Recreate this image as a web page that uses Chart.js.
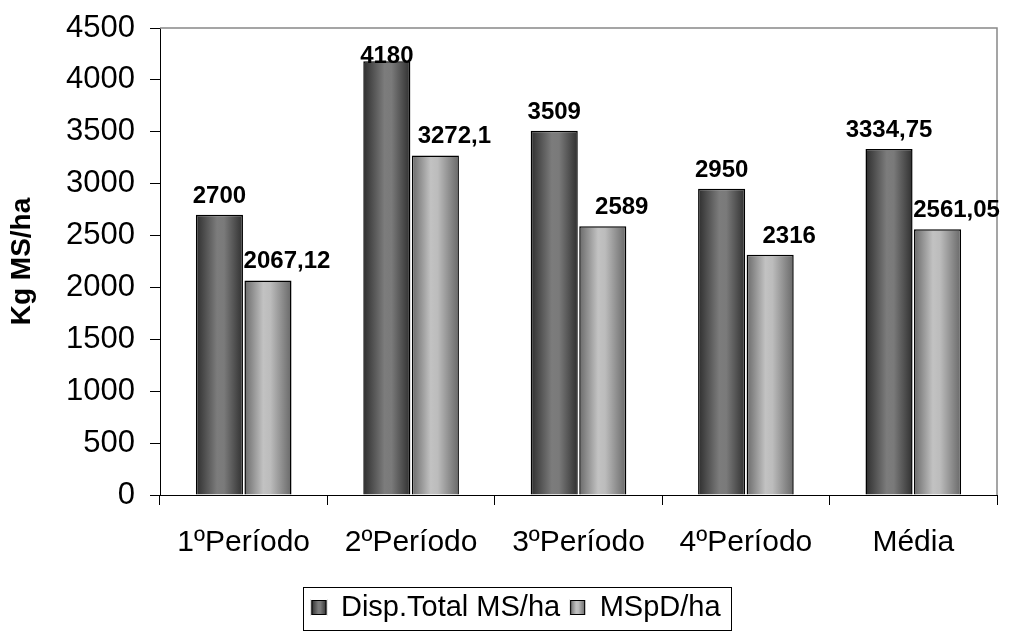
<!DOCTYPE html>
<html>
<head>
<meta charset="utf-8">
<script src="https://cdn.jsdelivr.net/npm/chart.js@4"></script>
<style>
  body { margin: 0; background: #fff; }
</style>
</head>
<body>
<canvas id="grafico" width="1010" height="632"></canvas>
<script>
const categorias = ['1ºPeríodo', '2ºPeríodo', '3ºPeríodo', '4ºPeríodo', 'Média'];
const dispTotal = [2700, 4180, 3509, 2950, 3334.75];
const mspd = [2067.12, 3272.1, 2589, 2316, 2561.05];
const nomesSeries = ['Disp.Total MS/ha', 'MSpD/ha'];
const yMax = 4500;
const yPasso = 500;

const fonte = '"Liberation Sans", Arial, sans-serif';
const catPct = 0.58, barPct = 0.97;
// tons das barras (efeito cilindro do Excel)
const tonsEscuro = [[0, '#2e2e2e'], [0.45, '#7c7c7c'], [0.6, '#7a7a7a'], [1, '#303030']];
const tonsClaro = [[0, '#6a6a6a'], [0.4, '#c2c2c2'], [0.55, '#bcbcbc'], [1, '#686868']];

function gradiente(ctx, x0, x1, tons) {
  const g = ctx.createLinearGradient(x0, 0, x1, 0);
  tons.forEach(t => g.addColorStop(t[0], t[1]));
  return g;
}

function corBarra(tons, reserva) {
  return function(c) {
    const xs = c.chart.scales.x;
    if (c.type !== 'data' || !xs || !xs.width) return reserva;
    const catW = xs.width / categorias.length;
    const slot = catW * catPct / 2;
    const centro = xs.getPixelForValue(c.dataIndex);
    const esq = centro - slot + c.datasetIndex * slot + slot * (1 - barPct) / 2;
    return gradiente(c.chart.ctx, esq, esq + slot * barPct, tons);
  };
}

// valores em cima das barras
const rotulos = {
  id: 'rotulos',
  afterDatasetsDraw(chart) {
    const ctx = chart.ctx;
    ctx.save();
    ctx.font = 'bold 24px ' + fonte;
    ctx.fillStyle = '#000';
    ctx.textAlign = 'center';
    ctx.textBaseline = 'alphabetic';
    chart.data.datasets.forEach((ds, i) => {
      chart.getDatasetMeta(i).data.forEach((el, j) => {
        const txt = String(ds.data[j]).replace('.', ',');
        const x = el.x + (i === 1 ? 19 : 0);
        const y = Math.max(el.y - 12, chart.chartArea.top + 35);
        ctx.fillText(txt, x, y);
      });
    });
    ctx.restore();
  }
};

// moldura cinza em cima e à direita
const moldura = {
  id: 'moldura',
  beforeDatasetsDraw(chart) {
    const {left, top, right, bottom} = chart.chartArea;
    const ctx = chart.ctx;
    ctx.save();
    ctx.strokeStyle = '#888';
    ctx.lineWidth = 1.5;
    ctx.beginPath();
    ctx.moveTo(left, top);
    ctx.lineTo(right, top);
    ctx.lineTo(right, bottom);
    ctx.stroke();
    ctx.restore();
  }
};

// caixa da legenda e ícones com gradiente
const legendaCaixa = {
  id: 'legendaCaixa',
  afterDraw(chart) {
    const lg = chart.legend;
    if (!lg || !lg.legendHitBoxes || !lg.legendHitBoxes.length) return;
    const ctx = chart.ctx;
    const hb = lg.legendHitBoxes;
    const box = 15;
    ctx.save();
    hb.forEach((h, i) => {
      const y = h.top + (h.height - box) / 2;
      ctx.fillStyle = '#fff';
      ctx.fillRect(h.left - 1, y - 1, box + 2, box + 2);
      ctx.fillStyle = gradiente(ctx, h.left, h.left + box, i === 0 ? tonsEscuro : tonsClaro);
      ctx.fillRect(h.left, y, box, box);
      ctx.strokeStyle = '#000';
      ctx.lineWidth = 1;
      ctx.strokeRect(h.left + 0.5, y + 0.5, box - 1, box - 1);
    });
    const ult = hb[hb.length - 1];
    const l = Math.round(hb[0].left - 8);
    const r = Math.round(ult.left + ult.width + 10);
    ctx.strokeStyle = '#000';
    ctx.lineWidth = 1;
    ctx.strokeRect(l + 0.5, Math.round(lg.top) + 4.5, r - l, lg.bottom - lg.top - 6);
    ctx.restore();
  }
};

const ctx = document.getElementById('grafico').getContext('2d');
new Chart(ctx, {
  type: 'bar',
  data: {
    labels: categorias,
    datasets: [{
      label: nomesSeries[0],
      data: dispTotal,
      backgroundColor: corBarra(tonsEscuro, '#555'),
      borderColor: '#000',
      borderWidth: 1.5,
      categoryPercentage: catPct,
      barPercentage: barPct
    }, {
      label: nomesSeries[1],
      data: mspd,
      backgroundColor: corBarra(tonsClaro, '#aaa'),
      borderColor: '#000',
      borderWidth: 1.5,
      categoryPercentage: catPct,
      barPercentage: barPct
    }]
  },
  options: {
    responsive: false,
    animation: false,
    devicePixelRatio: 1,
    layout: { padding: { left: 35, right: 13, top: 28, bottom: 0 } },
    plugins: {
      tooltip: { enabled: false },
      legend: {
        position: 'bottom',
        labels: {
          boxWidth: 15,
          boxHeight: 15,
          padding: 10,
          color: '#000',
          font: { family: fonte, size: 29 }
        }
      }
    },
    scales: {
      x: {
        afterFit: s => { s.height = 88; },
        grid: { drawOnChartArea: false, tickLength: 10, color: '#000' },
        border: { color: '#000', width: 1 },
        ticks: {
          color: '#000',
          padding: 20,
          maxRotation: 0,
          autoSkip: false,
          font: { family: fonte, size: 30 }
        }
      },
      y: {
        min: 0,
        max: yMax,
        afterFit: s => { s.width = 125; },
        grid: { drawOnChartArea: false, tickLength: 10, color: '#000' },
        border: { color: '#000', width: 1 },
        ticks: {
          stepSize: yPasso,
          color: '#000',
          padding: 15,
          font: { family: fonte, size: 31, lineHeight: 0.8 },
          callback: v => String(v)
        },
        title: {
          display: true,
          text: 'Kg MS/ha',
          color: '#000',
          font: { family: fonte, size: 28, weight: 'bold' },
          padding: { top: -30, bottom: 0 }
        }
      }
    }
  },
  plugins: [moldura, rotulos, legendaCaixa]
});
</script>
</body>
</html>
